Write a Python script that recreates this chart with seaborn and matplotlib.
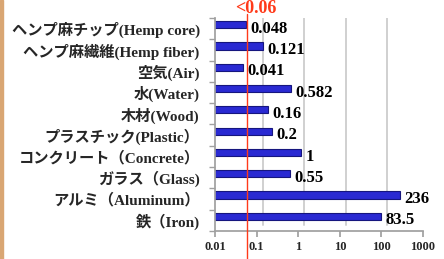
import matplotlib
matplotlib.use("Agg")
import matplotlib.pyplot as plt
import matplotlib.transforms as mtransforms
from matplotlib.patches import Rectangle
from matplotlib.ticker import FixedLocator, NullFormatter
import pandas as pd
import seaborn as sns

sns.set_theme(style="white")
plt.rcParams['font.family'] = ['Liberation Serif', 'Noto Sans CJK JP']
plt.rcParams['font.weight'] = 'bold'

# -- data -- #
materials = [
    "ヘンプ麻チップ(Hemp core)",
    "ヘンプ麻繊維(Hemp fiber)",
    "空気(Air)",
    "水(Water)",
    "木材(Wood)",
    "プラスチック(Plastic）",
    "コンクリート（Concrete）",
    "ガラス（Glass)",
    "アルミ（Aluminum）",
    "鉄（Iron)",
]
values = [0.048, 0.121, 0.041, 0.582, 0.16, 0.2, 1, 0.55, 236, 83.5]
value_labels = ["0.048", "0.121", "0.041", "0.582", "0.16", "0.2", "1", "0.55", "236", "83.5"]
x_ticks = [0.01, 0.1, 1, 10, 100, 1000]
x_tick_labels = ["0.01", "0.1", "1", "10", "100", "1000"]
threshold = 0.06
threshold_label = "<0.06"

df = pd.DataFrame({"material": materials, "value": values})

fig = plt.figure(figsize=(4.44, 2.59), dpi=100)
ax = fig.add_axes([215 / 444, 28 / 259, 208 / 444, 213 / 259])
ax.set_xscale("log")

sns.barplot(data=df, y="material", x="value", orient="h", ax=ax,
            color="#2a2ad2", width=0.34, saturation=1,
            edgecolor="#16167e", linewidth=0.8)
ax.set_xlim(0.01, 1000)
ax.set_ylim(9.5, -0.5)

# fake 3D depth: bars sit a bit back, grid on the back wall
bar_shift = mtransforms.ScaledTranslation(3 / 100, 4 / 100, fig.dpi_scale_trans)
for p in ax.patches:
    p.set_transform(ax.transData + bar_shift)

label_shift = mtransforms.ScaledTranslation(7 / 100, 2 / 100, fig.dpi_scale_trans)
for i, (v, lab) in enumerate(zip(values, value_labels)):
    ax.text(v, i + 0.1, lab, transform=ax.transData + label_shift,
            ha="left", va="center", fontsize=12, fontweight="bold",
            color="black", clip_on=False)

wall_shift = mtransforms.ScaledTranslation(6 / 100, 6 / 100, fig.dpi_scale_trans)
for x in x_ticks[1:]:
    gl = ax.axvline(x, color="#d0d0d0", lw=1.4, zorder=0)
    gl.set_transform(ax.get_xaxis_transform() + wall_shift)

# threshold line
ax.axvline(threshold, ymin=-0.13, ymax=1.02, color="#ff3a1a", lw=1.0,
           clip_on=False, zorder=5)
ax.text(threshold * 1.6, 1.005, threshold_label, transform=ax.get_xaxis_transform(),
        ha="center", va="bottom", color="#ff3a1a", fontsize=13,
        fontweight="bold")

# axes styling
ax.set_xlabel("")
ax.set_ylabel("")
ax.xaxis.set_major_locator(FixedLocator(x_ticks))
ax.set_xticklabels(x_tick_labels)
ax.xaxis.set_minor_formatter(NullFormatter())
ax.tick_params(axis="x", which="minor", length=0)
ax.tick_params(axis="x", which="major", length=4, color="#a0a0a0",
               labelsize=9, pad=3, direction="out", bottom=True)
ax.tick_params(axis="y", which="major", length=0, labelsize=11, pad=11)
ax.yaxis.set_minor_locator(FixedLocator([i - 0.5 for i in range(len(values) + 1)]))
ax.tick_params(axis="y", which="minor", length=4, color="#a0a0a0", left=True)

ax.spines.right.set_visible(False)
ax.spines.top.set_visible(False)
ax.spines.left.set_color("#a0a0a0")
ax.spines.bottom.set_color("#a0a0a0")

# wooden strip on the left edge
fig.patches.append(Rectangle((0, 0), 3 / 444, 1, transform=fig.transFigure,
                             color="#d9a673", zorder=0))

fig.savefig("out.png", dpi=100)
